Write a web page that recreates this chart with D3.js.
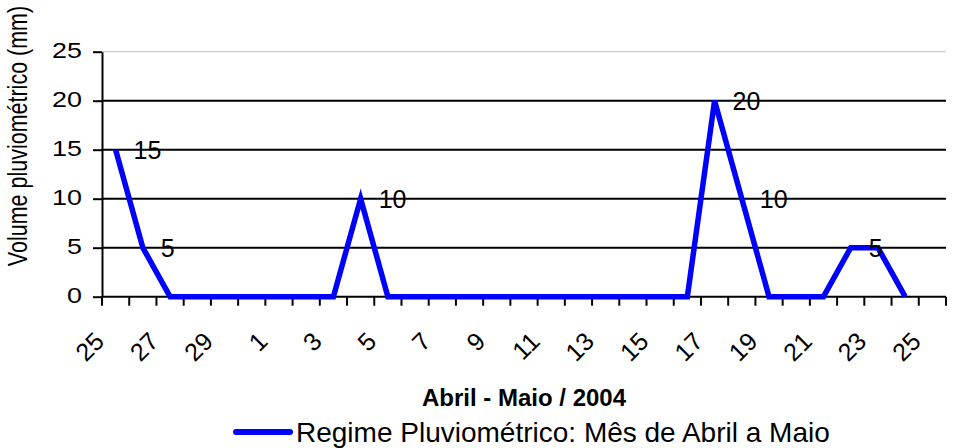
<html>
<head>
<meta charset="utf-8">
<title>Regime Pluviométrico</title>
<script src="https://cdnjs.cloudflare.com/ajax/libs/d3/7.8.5/d3.min.js"></script>
<style>
  body { margin: 0; background: #fff; }
  text { font-family: "Liberation Sans", Arial, sans-serif; fill: #000; }
</style>
</head>
<body>
<script>
// days from 25 April to 25 May 2004
var days = ["25","26","27","28","29","30","1","2","3","4","5","6","7","8","9","10",
            "11","12","13","14","15","16","17","18","19","20","21","22","23","24","25"];
// rainfall in mm (last day has no reading)
var rain = [15,5,0,0,0,0,0,0,0,10,0,0,0,0,0,0,0,0,0,0,0,0,20,10,0,0,0,5,5,0,null];
// points that carry a value label in the original
var labelled = [0,1,9,22,23,27];
var yTicks = [0,5,10,15,20,25];
var seriesName = "Regime Pluviométrico: Mês de Abril a Maio";
var xTitle = "Abril - Maio / 2004";
var yTitle = "Volume pluviométrico (mm)";

var width = 966, height = 448;
var plotLeft = 102, plotRight = 946, plotTop = 51.7, plotBottom = 296.7;

var svg = d3.select("body").append("svg")
  .attr("width", width)
  .attr("height", height);

var x = d3.scaleBand()
  .domain(d3.range(days.length))
  .range([plotLeft, plotRight])
  .padding(0);

var y = d3.scaleLinear()
  .domain([0, 25])
  .range([plotBottom, plotTop]);

// top border of plot area
svg.append("line")
  .attr("x1", plotLeft).attr("x2", plotRight)
  .attr("y1", y(25)).attr("y2", y(25))
  .attr("stroke", "#c0c0c0").attr("stroke-width", 1);

// gridlines
svg.selectAll(".grid")
  .data(yTicks.filter(function(d) { return d > 0 && d < 25; }))
  .enter().append("line")
  .attr("x1", plotLeft).attr("x2", plotRight)
  .attr("y1", function(d) { return y(d); })
  .attr("y2", function(d) { return y(d); })
  .attr("stroke", "#000").attr("stroke-width", 2);

// y axis
var yAxis = svg.append("g")
  .attr("transform", "translate(" + plotLeft + ",0)")
  .call(d3.axisLeft(y).tickValues(yTicks).tickSize(9).tickSizeOuter(0));
yAxis.select(".domain").attr("stroke-width", 2);
yAxis.selectAll(".tick line").attr("stroke-width", 2);
yAxis.selectAll(".tick text").remove();

// y tick labels (drawn wide, like the original)
svg.selectAll(".ylab")
  .data(yTicks)
  .enter().append("text")
  .attr("transform", function(d) { return "translate(82," + (y(d) + 6.5) + ") scale(1.25,1)"; })
  .attr("text-anchor", "end")
  .style("font-size", "21.5px")
  .text(function(d) { return d; });

// x axis line and ticks at category boundaries
svg.append("line")
  .attr("x1", plotLeft).attr("x2", plotRight)
  .attr("y1", plotBottom).attr("y2", plotBottom)
  .attr("stroke", "#000").attr("stroke-width", 2);

var bounds = d3.range(days.length + 1);
svg.selectAll(".xtick")
  .data(bounds)
  .enter().append("line")
  .attr("x1", function(d) { return plotLeft + d * x.step(); })
  .attr("x2", function(d) { return plotLeft + d * x.step(); })
  .attr("y1", plotBottom).attr("y2", plotBottom + 9)
  .attr("stroke", "#000").attr("stroke-width", 2);

// x tick labels, every second day, rotated
svg.selectAll(".xlab")
  .data(d3.range(0, days.length, 2))
  .enter().append("text")
  .attr("transform", function(i) {
    return "translate(" + (x(i) + x.bandwidth() / 2 - 10) + ",343) rotate(-45)";
  })
  .attr("text-anchor", "end")
  .style("font-size", "25px")
  .text(function(i) { return days[i]; });

// series line
var line = d3.line()
  .defined(function(d) { return d != null; })
  .x(function(d, i) { return x(i) + x.bandwidth() / 2; })
  .y(function(d) { return y(d); });

svg.append("path")
  .datum(rain)
  .attr("d", line)
  .attr("fill", "none")
  .attr("stroke", "#0000ff")
  .attr("stroke-width", 5.5)
  .attr("stroke-linejoin", "miter");

// value labels
svg.selectAll(".vlab")
  .data(labelled)
  .enter().append("text")
  .attr("x", function(i) { return x(i) + x.bandwidth() / 2 + 18; })
  .attr("y", function(i) { return y(rain[i]) + 9; })
  .style("font-size", "25px")
  .text(function(i) { return rain[i]; });

// axis titles
svg.append("text")
  .attr("x", (plotLeft + plotRight) / 2)
  .attr("y", 406)
  .attr("text-anchor", "middle")
  .style("font-size", "24px")
  .style("font-weight", "bold")
  .text(xTitle);

svg.append("text")
  .attr("transform", "translate(27,136) scale(1.3,1) rotate(-90)")
  .attr("text-anchor", "middle")
  .style("font-size", "21.5px")
  .text(yTitle);

// legend
svg.append("line")
  .attr("x1", 236).attr("x2", 290)
  .attr("y1", 432).attr("y2", 432)
  .attr("stroke", "#0000ff")
  .attr("stroke-width", 6)
  .attr("stroke-linecap", "round");

svg.append("text")
  .attr("x", 296)
  .attr("y", 441.5)
  .style("font-size", "28px")
  .text(seriesName);
</script>
</body>
</html>
